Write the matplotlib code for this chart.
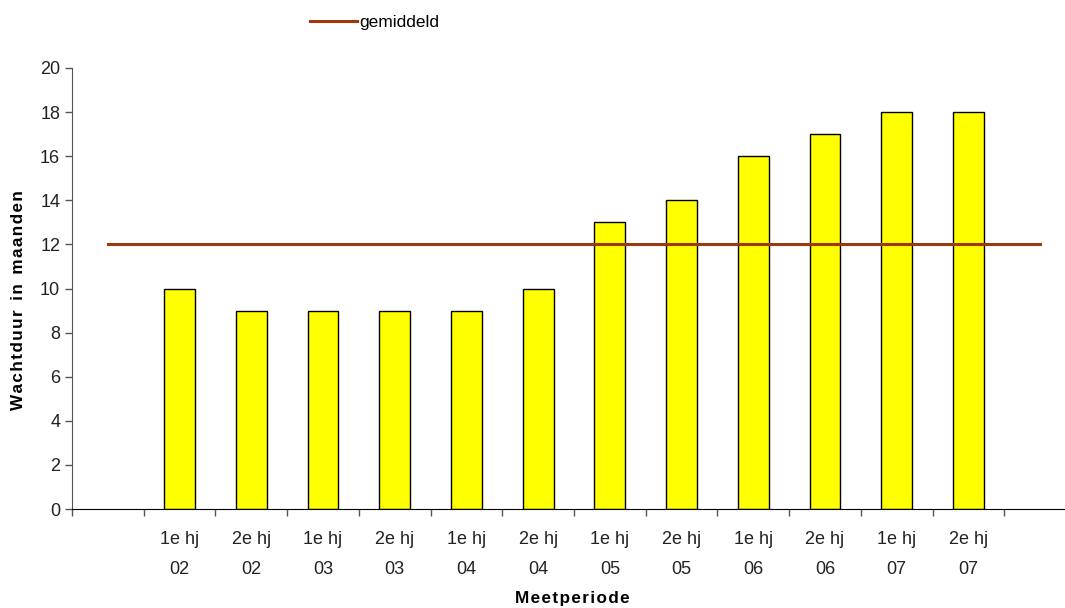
import matplotlib.pyplot as plt
from matplotlib.ticker import FixedLocator

plt.rcParams['font.family'] = ['Liberation Sans', 'DejaVu Sans']

# data
periods = ["", "1e hj\n02", "2e hj\n02", "1e hj\n03", "2e hj\n03", "1e hj\n04", "2e hj\n04",
           "1e hj\n05", "2e hj\n05", "1e hj\n06", "2e hj\n06", "1e hj\n07", "2e hj\n07", ""]
wachtduur = [None, 10, 9, 9, 9, 9, 10, 13, 14, 16, 17, 18, 18, None]
gemiddeld = [12] * len(periods)


def spaced(text):
    # hair spaces between letters, like the letter-spaced axis titles
    return "  ".join("\u200a".join(word) for word in text.split(" "))


fig = plt.figure(figsize=(10.65, 6.08), dpi=100)
ax = fig.add_axes([72 / 1065, 1 - 509 / 608, 1004 / 1065, 441 / 608])

x = list(range(len(periods)))
bar_x = [i for i, v in zip(x, wachtduur) if v is not None]
bar_v = [v for v in wachtduur if v is not None]
ax.bar(bar_x, bar_v, width=0.43, color="#FFFF00", edgecolor="black", linewidth=1, zorder=2)
line, = ax.plot(x, gemiddeld, color="#9C3A0E", linewidth=2.2, zorder=3, label="gemiddeld")

ax.set_xlim(-0.5, len(periods) - 0.5)
ax.set_ylim(0, 20)
ax.set_yticks(range(0, 21, 2))

# category labels centred, tick marks between categories
ax.set_xticks(x)
ax.set_xticklabels(periods, fontsize=13, color="#222222", linespacing=2.0)
ax.tick_params(axis="x", which="major", length=0, pad=16)
ax.xaxis.set_minor_locator(FixedLocator([i - 0.5 for i in range(len(periods) + 1)]))
ax.tick_params(axis="x", which="minor", length=5, width=1, color="#555555", direction="out")
ax.tick_params(axis="y", labelsize=13, length=5, width=1, color="#555555", labelcolor="#222222")

for s in ["top", "right"]:
    ax.spines[s].set_visible(False)
ax.spines["left"].set_color("#555555")
ax.spines["bottom"].set_color("black")

ax.set_ylabel(spaced("Wachtduur in maanden"), fontsize=12.3, fontweight="bold")
ax.set_xlabel(spaced("Meetperiode"), fontsize=12.3, fontweight="bold")
ax.yaxis.set_label_coords(-0.046, 0.474)
ax.xaxis.set_label_coords(0.4985, -0.186)

fig.legend(handles=[line], loc="center left", bbox_to_anchor=(294 / 1065, 1 - 22 / 608),
           frameon=False, fontsize=12.5, handlelength=2.7, handletextpad=0.15)

fig.savefig("out.png", dpi=100)
